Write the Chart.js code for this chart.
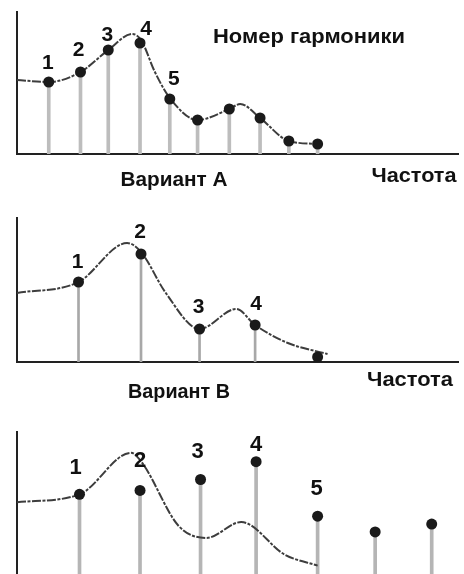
<!DOCTYPE html>
<html>
<head>
<meta charset="utf-8">
<script src="https://cdn.jsdelivr.net/npm/chart.js@4.4.0/dist/chart.umd.min.js"></script>
<style>
  html, body { margin: 0; padding: 0; background: #fff; overflow: hidden; width: 464px; height: 574px; }
  .panel { position: absolute; left: 0; width: 464px; }
</style>
</head>
<body>
<div class="panel" style="top:0;height:200px"><canvas id="variant-a"></canvas></div>
<div class="panel" style="top:200px;height:205px"><canvas id="variant-b"></canvas></div>
<div class="panel" style="top:405px;height:177px"><canvas id="variant-c"></canvas></div>
<script>
// Variant A - harmonics sit on the response curve
var harmFreqA = [32, 64, 92, 124, 154, 182, 214, 245, 274, 303];
var harmAmpA  = [72, 82, 104, 111, 55, 34, 45, 36, 13, 10];
var curveFreqA = [0, 32, 64, 92, 116, 125, 139, 154, 182, 214, 225, 245, 274, 305];
var curveAmpA  = [74, 72, 82, 104, 120, 114, 82, 56, 34, 45, 50, 36, 13, 10];

// Variant B - fewer harmonics, still on the curve
var harmFreqB = [62, 125, 184, 240, 303];
var harmAmpB  = [80, 108, 33, 37, 5];
var curveFreqB = [0, 62, 111, 125, 150, 184, 221, 240, 273, 313];
var curveAmpB  = [69, 80, 119, 110, 69, 33, 53, 37, 19, 8];

// Variant C - harmonics off the curve
var harmFreqC = [63, 124, 185, 241, 303, 361, 418];
var harmAmpC  = [83, 87, 98, 116, 61, 45, 53];
var curveFreqC = [0, 63, 115, 126, 163, 191, 226, 270, 303];
var curveAmpC  = [75, 83, 125, 115, 51, 39, 55, 22, 11];

var harmLabels = ['1', '2', '3', '4', '5'];

function pairs(xs, ys) {
  return xs.map(function (x, i) { return { x: x, y: ys[i] }; });
}

var notesPlugin = {
  id: 'notes',
  afterDatasetsDraw: function (chart, args, opts) {
    var ctx = chart.ctx;
    var pts = chart.getDatasetMeta(0).data;
    ctx.save();
    ctx.fillStyle = '#111';
    ctx.textAlign = 'center';
    ctx.textBaseline = 'alphabetic';
    ctx.font = 'bold ' + opts.numberSize + 'px "Liberation Sans", Arial, sans-serif';
    opts.offsets.forEach(function (off, i) {
      var p = pts[i];
      ctx.fillText(harmLabels[i], p.x + off[0], p.y + off[1] + opts.numberSize * 0.358);
    });
    ctx.font = 'bold 21px "Liberation Sans", Arial, sans-serif';
    opts.captions.forEach(function (c) {
      var w = ctx.measureText(c.text).width;
      ctx.save();
      ctx.translate(c.x, c.y);
      ctx.scale(c.w / w, 1);
      ctx.fillText(c.text, 0, 0);
      ctx.restore();
    });
    ctx.restore();
  }
};

function drawPanel(id, o) {
  return new Chart(document.getElementById(id), {
    type: 'scatter',
    plugins: [notesPlugin],
    data: {
      datasets: [
        {
          type: 'scatter',
          data: pairs(o.harmFreq, o.harmAmp),
          pointRadius: 5.5,
          pointBackgroundColor: '#1a1a1a',
          pointBorderWidth: 0,
          order: 0
        },
        {
          type: 'line',
          data: pairs(o.curveFreq, o.curveAmp),
          borderColor: '#3d3d3d',
          borderWidth: 2,
          borderDash: [9, 1.5, 3, 1.5],
          pointRadius: 0,
          cubicInterpolationMode: 'monotone',
          fill: false,
          order: 1
        },
        {
          type: 'bar',
          data: pairs(o.harmFreq, o.harmAmp),
          backgroundColor: o.stemColor,
          barThickness: o.stemWidth,
          order: 2
        }
      ]
    },
    options: {
      responsive: true,
      maintainAspectRatio: false,
      animation: false,
      layout: { padding: o.padding },
      plugins: {
        legend: { display: false },
        tooltip: { enabled: false },
        notes: { numberSize: o.numberSize, offsets: o.offsets, captions: o.captions }
      },
      scales: {
        x: {
          type: 'linear', min: 0, max: 445, offset: false,
          grid: { display: false, drawTicks: false, offset: false },
          ticks: { display: false },
          border: { display: true, color: '#222', width: 2 }
        },
        y: {
          type: 'linear', min: 0, max: o.yMax,
          grid: { display: false, drawTicks: false },
          ticks: { display: false },
          border: { display: true, color: '#222', width: 2 }
        }
      }
    }
  });
}

drawPanel('variant-a', {
  harmFreq: harmFreqA, harmAmp: harmAmpA, curveFreq: curveFreqA, curveAmp: curveAmpA,
  yMax: 142, padding: { left: 17, top: 12, right: 2, bottom: 46 },
  stemColor: '#bdbdbd', stemWidth: 3, numberSize: 21,
  offsets: [[-1, -21], [-2, -24], [-1, -17], [6, -16], [4, -22]],
  captions: [
    { text: 'Номер гармоники', x: 309, y: 43, w: 192 },
    { text: 'Вариант А', x: 174, y: 186, w: 107 },
    { text: 'Частота', x: 414, y: 182, w: 85 }
  ]
});

drawPanel('variant-b', {
  harmFreq: harmFreqB, harmAmp: harmAmpB, curveFreq: curveFreqB, curveAmp: curveAmpB,
  yMax: 144, padding: { left: 17, top: 18, right: 2, bottom: 43 },
  stemColor: '#a8a8a8', stemWidth: 2, numberSize: 21,
  offsets: [[-1, -22], [-1, -24], [-1, -24], [1, -23]],
  captions: [
    { text: 'Частота', x: 410, y: 186, w: 86 },
    { text: 'Вариант В', x: 179, y: 198, w: 102 }
  ]
});

drawPanel('variant-c', {
  harmFreq: harmFreqC, harmAmp: harmAmpC, curveFreq: curveFreqC, curveAmp: curveAmpC,
  yMax: 146, padding: { left: 17, top: 27, right: 2, bottom: 4 },
  stemColor: '#b5b5b5', stemWidth: 3, numberSize: 22,
  offsets: [[-4, -28], [0, -31], [-3, -29], [0, -19], [-1, -29]],
  captions: []
});
</script>
</body>
</html>
